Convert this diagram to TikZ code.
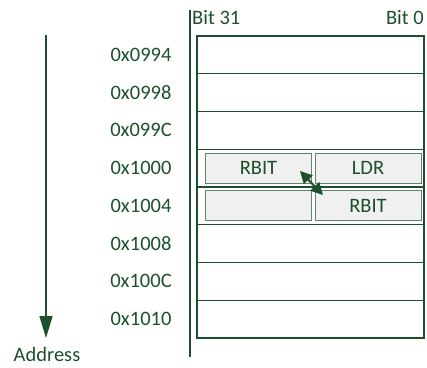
\documentclass[tikz,border=0pt]{standalone}
\usepackage{fontspec}
\setmainfont{Carlito}
\usetikzlibrary{arrows.meta}
\definecolor{dg}{RGB}{28,80,44}
\definecolor{boxfill}{RGB}{240,240,240}
\tikzset{
  lbl/.style={text=dg,font=\fontsize{20.5}{24}\selectfont,inner sep=0pt},
  row/.style={draw=dg,line width=1.2pt,fill=white,minimum width=227pt,minimum height=37.75pt,inner sep=0pt},
  cell/.style={draw=dg!70,line width=1pt,fill=boxfill,minimum width=106pt,minimum height=30pt,inner sep=0pt,text=dg,font=\fontsize{20.5}{24}\selectfont},
}
\begin{document}
\begin{tikzpicture}[x=1pt,y=-1pt]
\useasboundingbox (0,0) rectangle (427,367);
% rows
\foreach \i/\a in {0/0x0994,1/0x0998,2/0x099C,3/0x1000,4/0x1004,5/0x1008,6/0x100C,7/0x1010}{
  \node[row] (r\i) at (310.5,{36+37.75*\i+18.875}) {};
  \node[lbl] (a\i) at (141,{36+37.75*\i+18.875}) {\a};
}
\node[cell] (rb1) at (258.5,168.3) {RBIT};
\node[cell] (ldr) at (368,168.3) {LDR};
\node[cell] (em) at (258.5,205.8) {};
\node[cell] (rb2) at (368,205.8) {RBIT};
% vertical line
\coordinate (vt) at (190,10);
\coordinate (vb) at (190,357);
\draw[dg,line width=1.2pt] (vt) -- (vb);
\node[lbl,anchor=west] (b31) at (192,18) {Bit 31};
\node[lbl,anchor=east] (b0) at (424,18) {Bit 0};
% address arrow
\coordinate (at) at (46,35);
\coordinate (ab) at (46,338);
\draw[dg,line width=1.5pt,-{Triangle[length=22pt,width=13pt]}] (at) -- (ab);
\node[lbl] (addr) at (47,354) {Address};
% swap arrow
\coordinate (s1) at (300,171);
\coordinate (s2) at (323,195);
\draw[dg,line width=2pt,{Triangle[length=12pt,width=12pt]}-{Triangle[length=12pt,width=12pt]}] (s1) -- (s2);
\end{tikzpicture}
\end{document}
